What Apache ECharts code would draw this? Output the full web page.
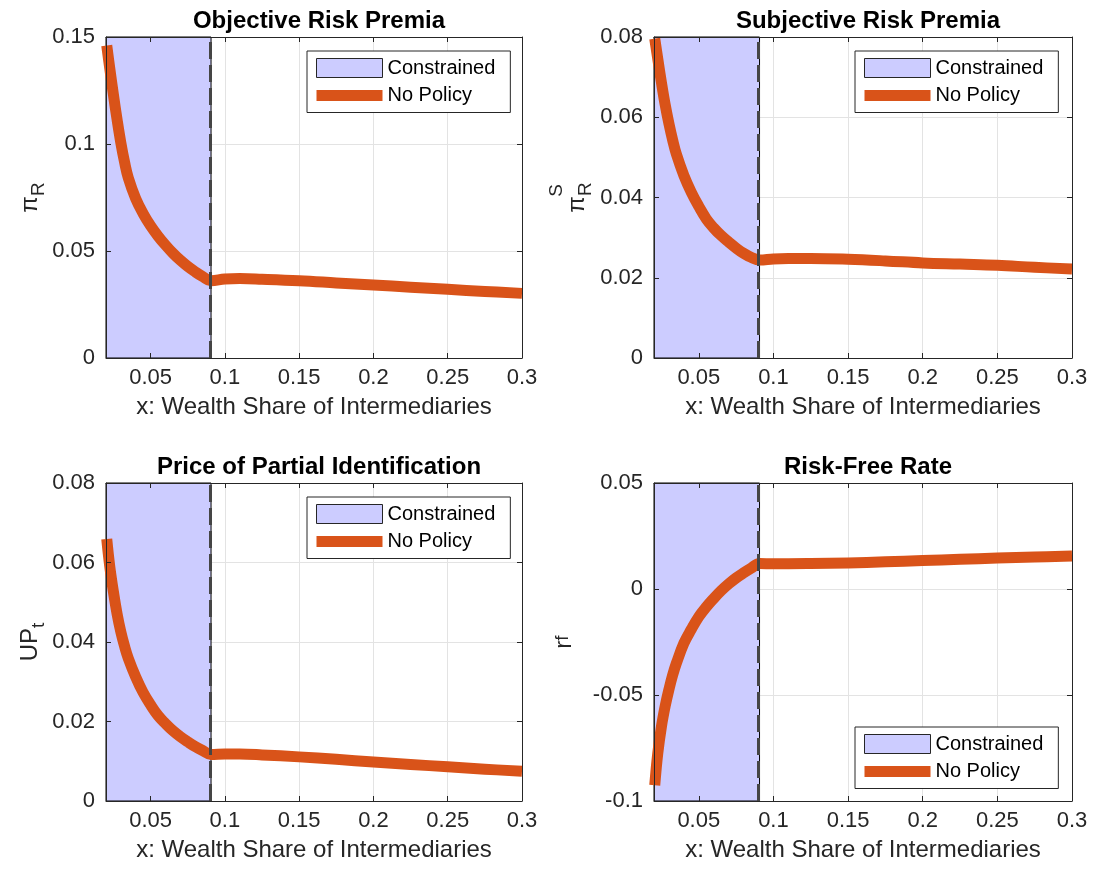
<!DOCTYPE html>
<html>
<head>
<meta charset="utf-8">
<script src="https://cdn.jsdelivr.net/npm/echarts@6/dist/echarts.min.js"></script>
<style>html,body{margin:0;padding:0;background:#fff}#c{width:1094px;height:874px}</style>
</head>
<body>
<div id="c"></div>
<script>
// ---------------- data ----------------
const xValues = [0.0205, 0.0225, 0.025, 0.0275, 0.03, 0.0325, 0.035, 0.04, 0.045, 0.05,
  0.055, 0.06, 0.065, 0.07, 0.075, 0.08, 0.085, 0.0907, 0.1, 0.11, 0.125, 0.15, 0.175,
  0.2, 0.225, 0.25, 0.275, 0.3];
const objectiveRiskPremia = [0.146, 0.1355, 0.123, 0.1112, 0.1005, 0.0915, 0.0842, 0.0745, 0.0675, 0.0618,
  0.0570, 0.0528, 0.0490, 0.0457, 0.0428, 0.0403, 0.0381, 0.0361, 0.0369, 0.0371, 0.0368, 0.0361, 0.0351,
  0.0341, 0.0331, 0.0321, 0.0311, 0.0302];
const subjectiveRiskPremia = [0.0796, 0.0746, 0.0686, 0.0631, 0.0584, 0.0543, 0.0508, 0.0455, 0.0413, 0.0378,
  0.0347, 0.0324, 0.0305, 0.0289, 0.0274, 0.0261, 0.0251, 0.0244, 0.0247, 0.0248, 0.0248, 0.0246, 0.0242,
  0.0237, 0.0234, 0.0231, 0.0226, 0.0222];
const priceOfPartialIdentification = [0.0659, 0.0591, 0.0526, 0.0470, 0.0425, 0.0389, 0.0359, 0.0312, 0.0273, 0.0242,
  0.0215, 0.0195, 0.0177, 0.0162, 0.0149, 0.0137, 0.0127, 0.0117, 0.0118, 0.0118, 0.0116, 0.0111, 0.0105,
  0.0098, 0.0092, 0.0086, 0.0080, 0.0075];
const riskFreeRate = [-0.0926, -0.0776, -0.0648, -0.0552, -0.0474, -0.0406, -0.0350, -0.0256, -0.0190, -0.0131,
  -0.0085, -0.0045, -0.0008, 0.0024, 0.0052, 0.0076, 0.0098, 0.0120, 0.0119, 0.0119, 0.0120, 0.0123, 0.0128,
  0.0134, 0.0140, 0.0146, 0.0151, 0.0156];
const constrainedEnd = 0.0907;
const xMin = 0.02, xMax = 0.3;
const xTicks = [0.05, 0.1, 0.15, 0.2, 0.25, 0.3];
const panelTitles = ['Objective Risk Premia', 'Subjective Risk Premia', 'Price of Partial Identification', 'Risk-Free Rate'];
const xLabel = 'x: Wealth Share of Intermediaries';
const yMins = [0, 0, 0, -0.1];
const yMaxs = [0.15, 0.08, 0.08, 0.05];
const yIntervals = [0.05, 0.02, 0.02, 0.05];
const legendNames = ['Constrained', 'No Policy'];
// --------------------------------------

const seriesValues = [objectiveRiskPremia, subjectiveRiskPremia, priceOfPartialIdentification, riskFreeRate];
const FONT = '"Liberation Sans", Arial, Helvetica, sans-serif';
const AX = '#262626';
const ORANGE = '#D95319';
const LAV = '#ccccff';

const grids = [
  {left: 106, top: 37, width: 416, height: 321},
  {left: 654, top: 37, width: 418, height: 321},
  {left: 106, top: 483, width: 416, height: 318},
  {left: 654, top: 483, width: 418, height: 318}
];
const yNames = [
  {name: '{p|π}{s|R}', gap: 58},
  {name: '{e|S}\n{p|π}{s|R}', gap: 59},
  {name: '{p|UP}{s|t}', gap: 58},
  {name: '{p|r}{e|f}', gap: 72}
];
const richY = {
  p: {fontSize: 24, fontFamily: FONT, color: AX, verticalAlign: 'bottom', padding: [0, 0, 6, 0]},
  s: {fontSize: 19, fontFamily: FONT, color: AX, verticalAlign: 'bottom'},
  e: {fontSize: 19, fontFamily: FONT, color: AX, verticalAlign: 'bottom', padding: [0, 0, 10, 0]}
};
const richY2 = {
  p: {fontSize: 24, fontFamily: FONT, color: AX, verticalAlign: 'bottom', padding: [0, 0, 6, 0]},
  s: {fontSize: 19, fontFamily: FONT, color: AX, verticalAlign: 'bottom'},
  e: {fontSize: 19, fontFamily: FONT, color: AX, align: 'center', padding: [0, 0, 0, 14], lineHeight: 16}
};
const legendPos = [
  {left: 307, top: 51},
  {left: 855, top: 51},
  {left: 307, top: 497},
  {left: 855, top: 727}
];
const fmt = v => String(+(+v).toFixed(4));

const option = {
  backgroundColor: '#fff',
  animation: false,
  textStyle: {fontFamily: FONT},
  title: [], grid: [], xAxis: [], yAxis: [], series: [], legend: []
};

grids.forEach((g, i) => {
  option.grid.push(Object.assign({containLabel: false, show: false}, g));
  option.title.push({
    text: panelTitles[i], left: g.left + g.width / 2, top: g.top - 33, textAlign: 'center',
    textStyle: {fontSize: 24, fontWeight: 'bold', color: '#000', fontFamily: FONT}
  });
  // x axes: main, mirror (top), split lines
  option.xAxis.push({
    gridIndex: i, type: 'value', min: xMin, max: xMax, position: 'bottom', z: 5,
    axisLine: {show: true, onZero: false, lineStyle: {color: AX, width: 1}},
    axisTick: {show: true, inside: true, length: 5, customValues: xTicks, lineStyle: {color: AX}},
    axisLabel: {show: true, customValues: xTicks, margin: 9, fontSize: 22, color: AX, fontFamily: FONT, formatter: fmt},
    splitLine: {show: false},
    name: xLabel, nameLocation: 'middle', nameGap: 37,
    nameTextStyle: {fontSize: 24, color: AX, fontFamily: FONT}
  });
  option.xAxis.push({
    gridIndex: i, type: 'value', min: xMin, max: xMax, position: 'top', z: 5,
    axisLine: {show: true, onZero: false, lineStyle: {color: AX, width: 1}},
    axisTick: {show: true, inside: true, length: 5, customValues: xTicks, lineStyle: {color: AX}},
    axisLabel: {show: false, customValues: xTicks},
    splitLine: {show: false}
  });
  option.xAxis.push({
    gridIndex: i, type: 'value', min: xMin, max: xMax, position: 'bottom', z: 0,
    axisLine: {show: false}, axisTick: {show: false, customValues: xTicks},
    axisLabel: {show: false, customValues: xTicks},
    splitLine: {show: true, lineStyle: {color: '#e3e3e3', width: 1}}
  });
  const ycommon = {gridIndex: i, type: 'value', min: yMins[i], max: yMaxs[i], interval: yIntervals[i]};
  option.yAxis.push(Object.assign({}, ycommon, {
    position: 'left', z: 5,
    axisLine: {show: true, onZero: false, lineStyle: {color: AX, width: 1}},
    axisTick: {show: true, inside: true, length: 5, lineStyle: {color: AX}},
    axisLabel: {show: true, margin: 11, fontSize: 22, color: AX, fontFamily: FONT, formatter: fmt},
    splitLine: {show: false},
    name: yNames[i].name, nameLocation: 'middle', nameRotate: 90, nameGap: yNames[i].gap,
    nameTextStyle: {fontSize: 24, color: AX, fontFamily: FONT, rich: i === 1 ? richY2 : richY}
  }));
  option.yAxis.push(Object.assign({}, ycommon, {
    position: 'right', z: 5,
    axisLine: {show: true, onZero: false, lineStyle: {color: AX, width: 1}},
    axisTick: {show: true, inside: true, length: 5, lineStyle: {color: AX}},
    axisLabel: {show: false}, splitLine: {show: false}
  }));
  option.yAxis.push(Object.assign({}, ycommon, {
    position: 'left', z: 0,
    axisLine: {show: false}, axisTick: {show: false}, axisLabel: {show: false},
    splitLine: {show: true, lineStyle: {color: '#e3e3e3', width: 1}}
  }));

  const xi = 3 * i + 2, yi = 3 * i + 2;
  option.series.push({
    name: legendNames[0], type: 'line', xAxisIndex: xi, yAxisIndex: yi, data: [], z: 1,
    silent: true,
    markArea: {
      silent: true,
      itemStyle: {color: LAV, borderColor: '#000', borderWidth: 1},
      data: [[{xAxis: xMin}, {xAxis: constrainedEnd}]]
    }
  });
  option.series.push({
    name: legendNames[1], type: 'line', xAxisIndex: xi, yAxisIndex: yi, z: 3,
    data: xValues.map((x, j) => [x, seriesValues[i][j]]),
    showSymbol: false, symbol: 'none', smooth: 0.4, clip: false, silent: true,
    lineStyle: {color: ORANGE, width: 11, cap: 'butt', join: 'miter'},
    itemStyle: {color: ORANGE, borderWidth: 0}
  });
  option.series.push({
    name: 'boundary', type: 'line', xAxisIndex: xi, yAxisIndex: yi, data: [], z: 4, silent: true,
    markLine: {
      silent: true, symbol: ['none', 'none'], label: {show: false},
      lineStyle: {color: '#454545', width: 3, type: [17, 6]},
      emphasis: {disabled: true},
      data: [{xAxis: constrainedEnd}]
    }
  });
  option.legend.push({
    left: legendPos[i].left, top: legendPos[i].top, orient: 'vertical',
    selectedMode: false, z: 10,
    backgroundColor: '#fff', borderColor: AX, borderWidth: 1, borderRadius: 0,
    padding: [7, 15, 7, 9], itemGap: 7.5, itemWidth: 66, itemHeight: 19,
    symbolKeepAspect: true,
    textStyle: {fontSize: 20, color: '#000', fontFamily: FONT},
    data: [
      {name: legendNames[0], icon: 'rect', itemStyle: {color: LAV, borderColor: AX, borderWidth: 1}},
      {name: legendNames[1], icon: 'path://M0,0H66V11H0Z', itemStyle: {color: ORANGE, borderWidth: 0}}
    ]
  });
});

const chart = echarts.init(document.getElementById('c'), null, {renderer: 'canvas'});
chart.setOption(option);
</script>
</body>
</html>
